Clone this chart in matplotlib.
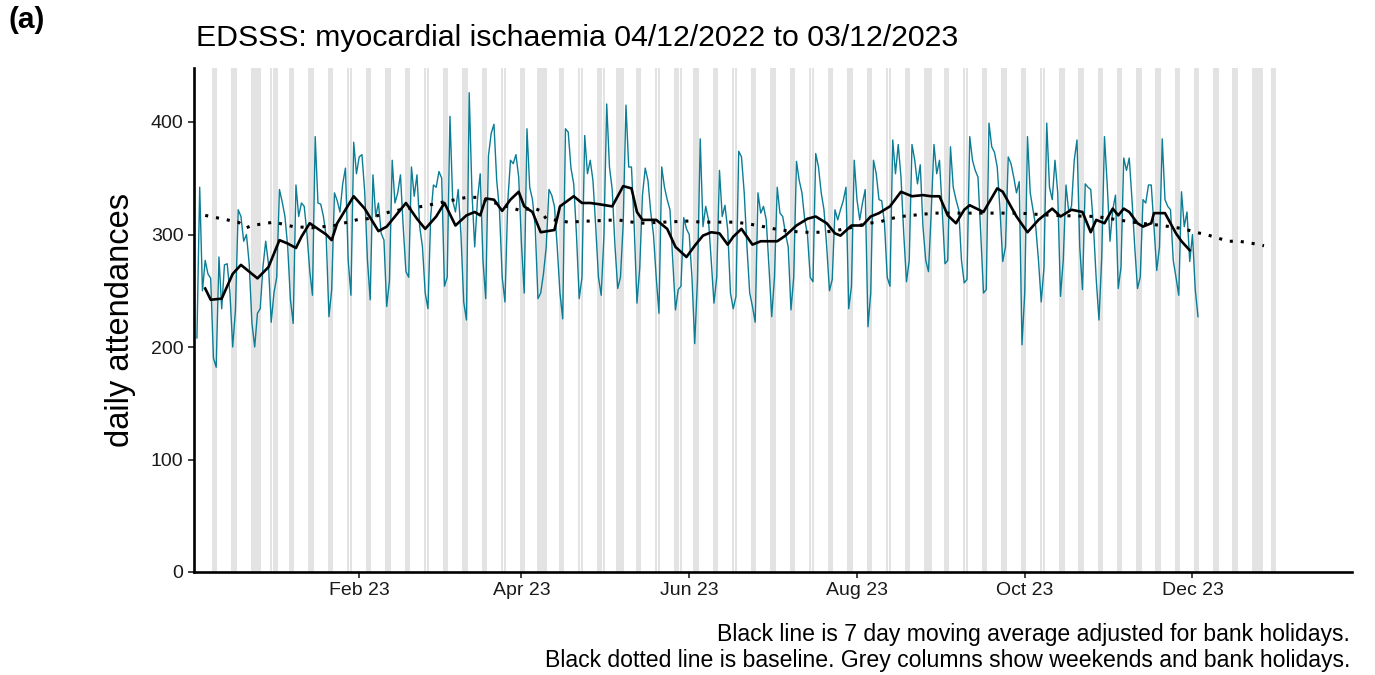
import numpy as np
import pandas as pd
import matplotlib
matplotlib.use('Agg')
import matplotlib.pyplot as plt
import matplotlib.dates as mdates

plt.rcParams['font.family'] = ['Liberation Sans', 'DejaVu Sans']

### data ###
start_date = '2022-12-04'

# daily attendances, Sun 04/12/2022 then one row per week (Mon..Sun)
attendances = [208,
    342, 250, 277, 265, 261, 190, 182,
    280, 234, 273, 274, 248, 200, 233,
    322, 316, 294, 300, 274, 221, 200,
    230, 234, 271, 294, 274, 222, 248,
    262, 340, 329, 316, 289, 242, 221,
    344, 316, 328, 325, 301, 268, 246,
    387, 328, 327, 316, 298, 227, 251,
    337, 330, 320, 345, 359, 277, 246,
    382, 354, 369, 371, 338, 277, 242,
    353, 316, 328, 301, 295, 236, 259,
    366, 328, 337, 353, 307, 267, 262,
    360, 334, 353, 307, 289, 248, 234,
    316, 344, 342, 356, 350, 254, 262,
    405, 330, 320, 340, 300, 240, 224,
    426, 337, 289, 331, 354, 277, 243,
    370, 390, 398, 348, 322, 262, 240,
    328, 366, 363, 371, 351, 292, 248,
    394, 342, 331, 307, 243, 248, 265,
    289, 340, 335, 325, 289, 248, 225,
    394, 391, 359, 345, 300, 243, 262,
    388, 354, 366, 348, 307, 262, 246,
    300, 416, 360, 340, 290, 252, 262,
    310, 415, 360, 360, 307, 239, 270,
    335, 359, 348, 320, 300, 262, 230,
    360, 342, 331, 322, 277, 233, 251,
    254, 315, 305, 300, 262, 203, 260,
    385, 307, 325, 313, 277, 239, 262,
    357, 316, 326, 304, 248, 234, 245,
    374, 369, 337, 289, 248, 236, 222,
    337, 319, 325, 313, 271, 227, 262,
    342, 319, 316, 301, 289, 233, 262,
    365, 348, 337, 313, 300, 262, 258,
    372, 360, 337, 322, 289, 250, 260,
    322, 313, 322, 330, 342, 234, 254,
    366, 331, 313, 328, 340, 218, 248,
    366, 354, 331, 330, 310, 262, 254,
    384, 354, 380, 351, 301, 258, 277,
    380, 366, 345, 362, 307, 277, 267,
    320, 380, 354, 366, 322, 274, 277,
    378, 342, 331, 322, 277, 257, 260,
    387, 366, 357, 351, 301, 248, 251,
    399, 378, 373, 360, 322, 276, 289,
    369, 363, 351, 337, 347, 202, 248,
    387, 337, 322, 307, 277, 240, 271,
    399, 342, 331, 366, 337, 245, 277,
    344, 320, 325, 366, 384, 289, 251,
    345, 342, 340, 307, 260, 224, 280,
    387, 344, 294, 322, 335, 252, 271,
    368, 357, 368, 331, 289, 252, 262,
    331, 328, 344, 344, 307, 268, 289,
    385, 331, 325, 322, 277, 262, 246,
    338, 307, 320, 276, 300, 251, 227]

# 7 day moving average (days after start date, value)
ma_day = [3, 5, 9, 13, 16, 19, 22, 26, 30, 33, 36, 38, 41, 44, 47, 49, 51, 54, 57, 61,
          66, 69, 73, 76, 80, 83, 87, 90, 94, 98, 101, 103, 105, 108, 111, 114, 117, 119, 122, 125,
          130, 132, 137, 140, 143, 146, 151, 155, 158, 160, 162, 167, 171, 174, 178, 181, 184, 187, 190, 193,
          195, 198, 202, 205, 207, 211, 214, 218, 222, 225, 229, 232, 234, 238, 242, 245, 248, 252, 256, 260,
          264, 267, 270, 273, 276, 279, 281, 286, 291, 293, 298, 302, 306, 311, 314, 318, 322, 325, 327, 330,
          333, 335, 337, 339, 342, 344, 347, 348, 352, 356, 358, 361]
ma_value = [252, 242, 243, 265, 273, 267, 261, 271, 295, 292, 288, 298, 310, 305, 300, 295, 310, 322, 334, 323,
            303, 307, 319, 328, 314, 305, 316, 328, 308, 317, 320, 317, 332, 331, 321, 331, 338, 325, 320, 302,
            304, 325, 334, 328, 328, 327, 325, 343, 341, 320, 313, 313, 305, 289, 280, 290, 299, 302, 301, 291,
            298, 305, 291, 294, 294, 294, 299, 308, 314, 316, 310, 301, 299, 308, 308, 316, 319, 325, 338, 334,
            335, 334, 334, 317, 310, 322, 326, 320, 341, 338, 316, 302, 313, 323, 316, 322, 320, 302, 313, 310,
            323, 317, 323, 320, 310, 307, 310, 319, 319, 301, 294, 286]

# baseline (days after start date, value)
baseline_day = [3, 15, 18, 20, 28, 35, 42, 50, 58, 62, 66, 70, 74, 82, 86, 94, 98, 102, 107, 114,
                118, 122, 125, 127, 135, 143, 153, 161, 170, 179, 183, 195, 199, 204, 208, 212, 220, 228, 236, 244,
                248, 252, 256, 260, 268, 282, 299, 311, 327, 335, 343, 351, 359, 363, 367, 371, 375, 379, 384, 388]
baseline_value = [317, 311, 306, 308, 311, 307, 306, 308, 313, 314, 317, 320, 322, 325, 327, 331, 333, 333, 329, 324,
                  321, 324, 321, 314, 311, 312, 313, 310, 311, 312, 311, 311, 310, 308, 306, 304, 302, 302, 305, 310,
                  311, 314, 316, 317, 319, 319, 319, 317, 316, 313, 310, 308, 305, 302, 300, 297, 294, 294, 292, 290]

bank_holidays = ['2022-12-26', '2022-12-27', '2023-01-02', '2023-04-07', '2023-04-10', '2023-05-01',
                 '2023-05-08', '2023-05-29', '2023-08-28', '2023-12-25', '2023-12-26']
shade_from = '2022-12-10'
shade_to = '2023-12-31'

tick_dates = ['2023-02-01', '2023-04-01', '2023-06-01', '2023-08-01', '2023-10-01', '2023-12-01']
tick_labels = ['Feb 23', 'Apr 23', 'Jun 23', 'Aug 23', 'Oct 23', 'Dec 23']
y_ticks = [0, 100, 200, 300, 400]

title = 'EDSSS: myocardial ischaemia 04/12/2022 to 03/12/2023'
caption1 = 'Black line is 7 day moving average adjusted for bank holidays.'
caption2 = 'Black dotted line is baseline. Grey columns show weekends and bank holidays.'

### build dates ###
t0 = pd.Timestamp(start_date)
dates = pd.date_range(t0, periods=len(attendances), freq='D')
ma_dates = t0 + pd.to_timedelta(ma_day, unit='D')
bl_dates = t0 + pd.to_timedelta(baseline_day, unit='D')

all_days = pd.date_range(shade_from, shade_to, freq='D')
is_shaded = (all_days.dayofweek >= 5) | all_days.isin(pd.to_datetime(bank_holidays))
shade_days = all_days[is_shaded]

### plot ###
y_top = 448
fig = plt.figure(figsize=(13.75, 6.75), dpi=100)
ax = fig.add_axes([194 / 1375, 103 / 675, 1158 / 1375, 504 / 675])

ax.bar(shade_days, y_top, width=0.92, bottom=0, color='#E3E3E3', linewidth=0, zorder=0)
ax.plot(dates, attendances, color='#0B7D95', linewidth=1.0, zorder=2)
ax.plot(bl_dates, baseline_value, color='black', linewidth=2.2,
        linestyle=(0, (1, 2.6)), dash_capstyle='butt', zorder=3)
ax.plot(ma_dates, ma_value, color='black', linewidth=1.9, zorder=4)

ax.set_xlim(t0 - pd.Timedelta(days=1.07), t0 + pd.Timedelta(days=420))
ax.set_ylim(0, y_top)
ax.set_xticks(pd.to_datetime(tick_dates))
ax.set_xticklabels(tick_labels)
ax.set_yticks(y_ticks)

for side in ['top', 'right']:
    ax.spines[side].set_visible(False)
for side in ['left', 'bottom']:
    ax.spines[side].set_linewidth(1.9)
    ax.spines[side].set_color('black')
ax.tick_params(axis='both', length=4.5, width=1.3, color='#333333',
               labelsize=14, labelcolor='#1a1a1a', pad=3)

fig.text(121 / 1375, 1 - 320 / 675, 'daily attendances', rotation=90,
         ha='center', va='center', fontsize=23.5)
fig.text(196 / 1375, 1 - 38 / 675, title, ha='left', va='center', fontsize=21.8)
fig.text(8 / 1375, 1 - 20 / 675, '(a)', ha='left', va='center', fontsize=21.5, fontweight='bold')
fig.text(1350 / 1375, 1 - 634 / 675, caption1, ha='right', va='center', fontsize=16.6)
fig.text(1350 / 1375, 1 - 661 / 675, caption2, ha='right', va='center', fontsize=16.6)

fig.savefig('out.png', dpi=100)
